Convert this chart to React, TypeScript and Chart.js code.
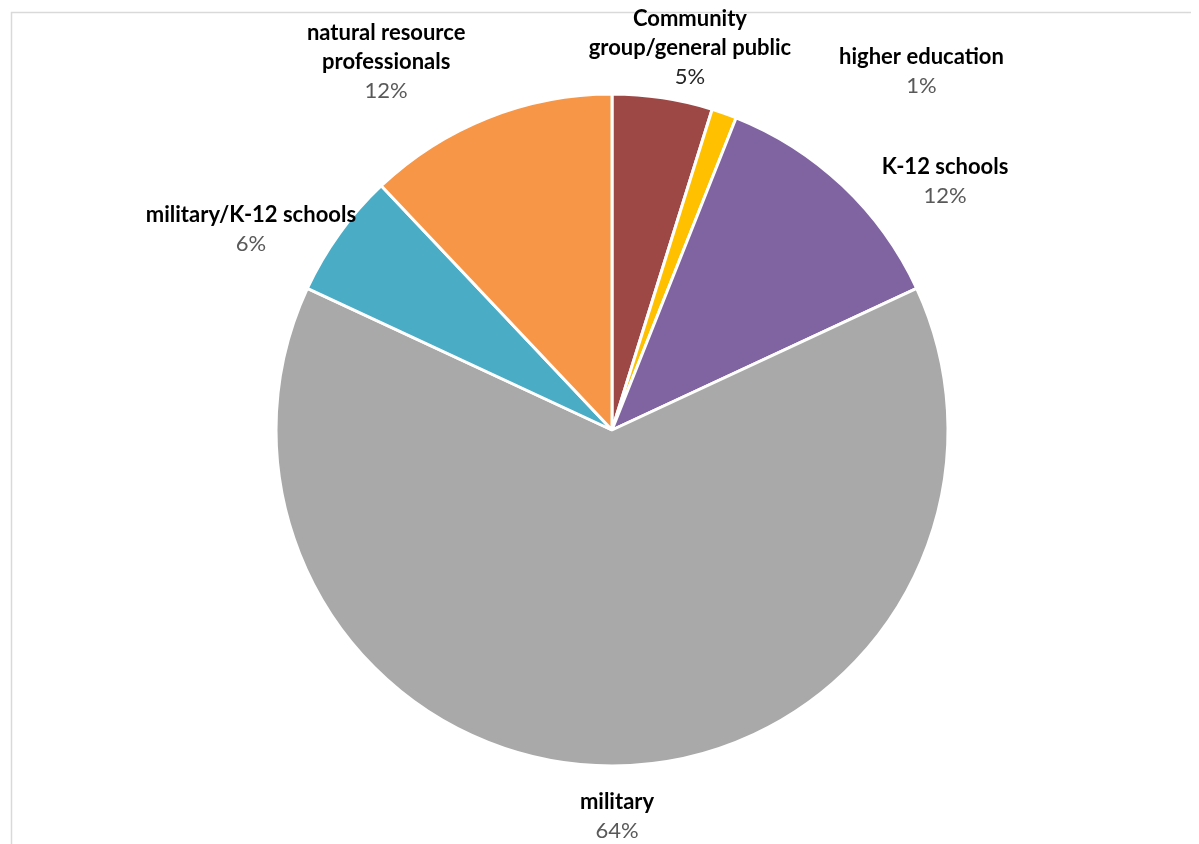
import React, { useEffect, useRef } from "react";
import { Chart, registerables } from "chart.js";

Chart.register(...registerables);

// Data (clockwise from 12 o'clock)
const categoryLines: string[][] = [
  ["Community", "group/general public"],
  ["higher education"],
  ["K-12 schools"],
  ["military"],
  ["military/K-12 schools"],
  ["natural resource", "professionals"],
];
const counts: number[] = [4, 1, 10, 53, 5, 10];
const sliceColors: string[] = ["#9E4846", "#FFC000", "#8064A2", "#A9A9A9", "#4BACC6", "#F79646"];
const percentColors: string[] = ["#262626", "#595959", "#595959", "#595959", "#595959", "#595959"];
// small per-label nudges (px) from the outside-end anchor computed from each arc
const labelNudges: number[][] = [[9, 13], [163, 4], [45, 31], [5, 1], [13, 25], [-65, 3]];

const FONT_FAMILY = "Lato, 'Open Sans', 'DejaVu Sans', sans-serif";
const FONT_SIZE = 22;
const LINE_H = 29;

const framePlugin = {
  id: "frame",
  beforeDraw(chart: any) {
    const ctx = chart.ctx;
    ctx.save();
    ctx.fillStyle = "#ffffff";
    ctx.fillRect(0, 0, chart.width, chart.height);
    ctx.strokeStyle = "#d9d9d9";
    ctx.lineWidth = 1.5;
    ctx.strokeRect(3.5, 4.5, chart.width + 100, chart.height + 100);
    ctx.restore();
  },
};

const labelPlugin = {
  id: "outsideLabels",
  afterDraw(chart: any) {
    const ctx = chart.ctx;
    const meta = chart.getDatasetMeta(0);
    const data = chart.data.datasets[0].data as number[];
    const total = data.reduce((a, b) => a + b, 0);
    const gap = 20;
    ctx.save();
    ctx.textAlign = "center";
    ctx.textBaseline = "middle";
    meta.data.forEach((arc: any, i: number) => {
      const { x, y, startAngle, endAngle, outerRadius } = arc.getProps(
        ["x", "y", "startAngle", "endAngle", "outerRadius"],
        true
      );
      const mid = (startAngle + endAngle) / 2;
      const dx = Math.cos(mid);
      const dy = Math.sin(mid);
      const lines = categoryLines[i];
      const pct = Math.round((data[i] / total) * 100) + "%";
      ctx.font = `bold ${FONT_SIZE}px ${FONT_FAMILY}`;
      let w = 0;
      lines.forEach((l) => (w = Math.max(w, ctx.measureText(l).width)));
      const nLines = lines.length + 1;
      const h = nLines * LINE_H;
      const ax = x + (outerRadius + gap) * dx;
      const ay = y + (outerRadius + gap) * dy;
      const cx = ax + dx * (w / 2) + labelNudges[i][0];
      const cy = ay + dy * (h / 2) + labelNudges[i][1];
      const top = cy - h / 2 + LINE_H / 2;
      lines.forEach((l, k) => {
        ctx.fillStyle = "#000000";
        ctx.font = `bold ${FONT_SIZE}px ${FONT_FAMILY}`;
        ctx.fillText(l, cx, top + k * LINE_H);
      });
      ctx.fillStyle = percentColors[i];
      ctx.font = `${FONT_SIZE}px ${FONT_FAMILY}`;
      ctx.fillText(pct, cx, top + lines.length * LINE_H);
    });
    ctx.restore();
  },
};

export default function App() {
  const canvasRef = useRef<HTMLCanvasElement | null>(null);

  useEffect(() => {
    if (!canvasRef.current) return;
    const chart = new Chart(canvasRef.current, {
      type: "pie",
      data: {
        labels: categoryLines.map((l) => l.join(" ")),
        datasets: [
          {
            data: counts,
            backgroundColor: sliceColors,
            borderColor: "#ffffff",
            borderWidth: 3,
          },
        ],
      },
      options: {
        responsive: false,
        animation: false,
        devicePixelRatio: 1,
        radius: 336,
        layout: { padding: { top: 87, bottom: 79, left: 200, right: 175 } },
        plugins: {
          legend: { display: false },
          tooltip: { enabled: false },
          title: { display: false },
        },
      } as any,
      plugins: [framePlugin, labelPlugin],
    });
    return () => chart.destroy();
  }, []);

  return (
    <div style={{ position: "fixed", left: 8, top: 8, width: 1183, height: 836 }}>
      <canvas ref={canvasRef} width={1183} height={836} style={{ display: "block" }} />
    </div>
  );
}
